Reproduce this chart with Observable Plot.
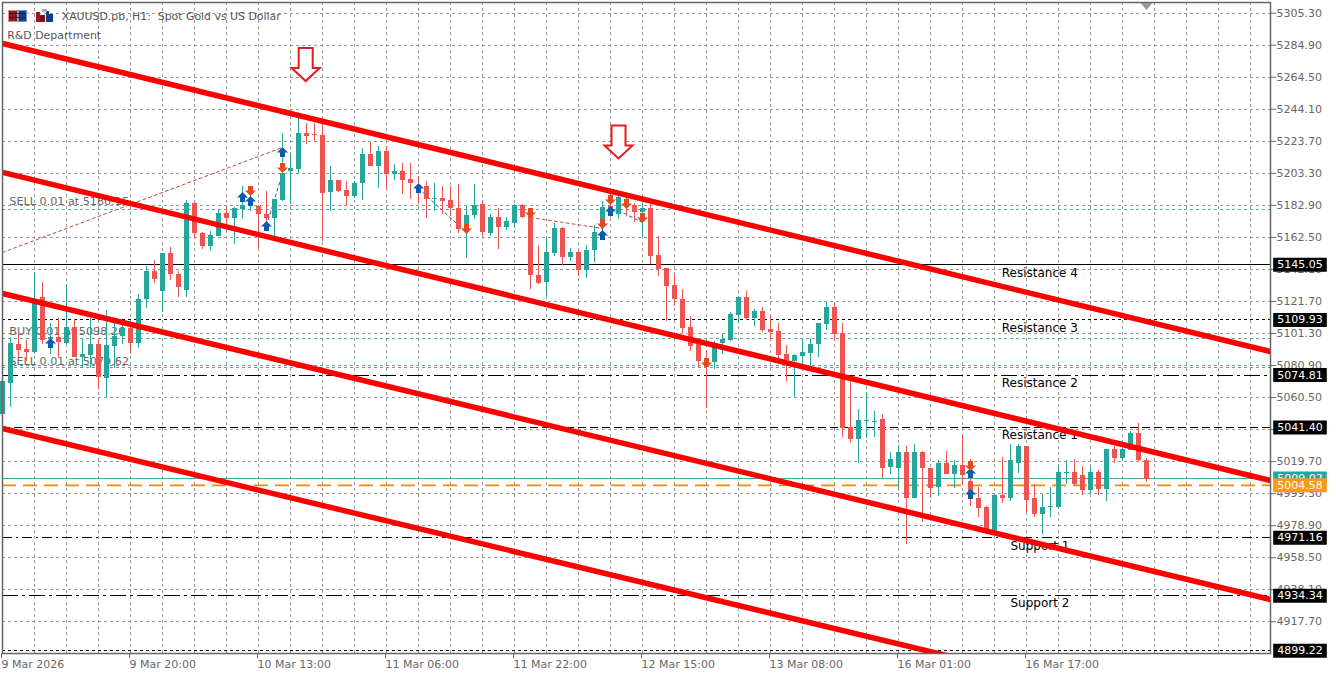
<!DOCTYPE html>
<html><head><meta charset="utf-8">
<script src="https://cdn.jsdelivr.net/npm/d3@7"></script>
<script src="https://cdn.jsdelivr.net/npm/@observablehq/plot@0.6"></script>
<style>
html,body{margin:0;padding:0;background:#fff;overflow:hidden}
#wrap{position:relative;width:1336px;height:676px}
#wrap svg{display:block}
.ic{position:absolute;box-sizing:border-box}
</style></head><body><div id="wrap"></div>
<script>
const opens=[5050.0,5069.7,5094.5,5091.4,5089.5,5124.5,5097.7,5099.0,5095.2,5105.4,
5086.3,5087.6,5094.5,5072.9,5093.3,5099.6,5104.7,5095.2,5123.2,5141.0,
5128.3,5152.5,5139.1,5128.9,5184.3,5165.2,5156.9,5163.3,5178.0,5174.8,
5180.5,5183.0,5182.4,5177.3,5174.8,5186.2,5204.7,5206.0,5228.9,5228.3,
5227.6,5191.3,5199.0,5192.6,5188.8,5197.1,5215.5,5207.9,5217.4,5202.8,
5204.7,5199.6,5194.5,5195.2,5186.9,5187.5,5186.2,5181.1,5171.0,5176.7,
5183.7,5165.2,5175.4,5169.0,5171.6,5183.0,5176.0,5138.5,5134.0,5152.5,
5168.4,5150.0,5153.1,5141.7,5154.4,5174.1,5182.4,5177.3,5185.6,5183.0,
5178.6,5181.1,5151.2,5143.0,5132.1,5123.2,5105.4,5094.5,5085.0,5083.1,
5095.2,5097.1,5113.0,5124.5,5111.1,5115.6,5104.1,5102.8,5088.2,5083.7,
5086.9,5088.8,5094.5,5107.3,5118.1,5101.6,5041.7,5034.1,5045.5,5044.9,
5046.8,5016.2,5015.6,5025.2,4996.5,5025.8,5015.6,5003.5,5018.8,5011.8,
5017.5,5007.3,4995.9,4990.8,4975.5,4998.4,4996.5,5018.8,5029.6,4995.9,
4986.3,4990.8,4990.8,5012.4,5013.0,5011.1,5001.6,5013.0,5002.2,5027.7,
5022.0,5027.1,5037.9,5020.7];
const closes=[5071.0,5095.2,5090.7,5089.5,5121.9,5097.1,5099.0,5095.8,5105.4,5086.3,
5088.2,5094.5,5073.5,5093.9,5099.6,5104.7,5095.2,5123.2,5141.0,5136.0,
5152.5,5139.1,5130.9,5184.3,5165.2,5156.9,5164.0,5178.0,5174.8,5181.1,
5183.0,5185.6,5177.3,5174.8,5186.9,5203.4,5206.6,5228.9,5227.0,5227.6,
5190.7,5199.0,5192.0,5188.8,5197.1,5215.5,5207.9,5217.4,5202.8,5204.7,
5199.0,5197.1,5190.7,5186.9,5187.5,5185.6,5181.1,5167.8,5176.7,5183.0,
5165.9,5175.4,5169.0,5172.9,5183.0,5175.4,5138.5,5133.4,5153.1,5168.4,
5150.0,5153.1,5141.7,5154.4,5165.9,5181.8,5178.0,5188.1,5183.7,5178.6,
5181.1,5150.6,5142.3,5131.5,5123.2,5104.7,5093.3,5083.7,5079.9,5095.2,
5097.7,5113.6,5124.5,5111.1,5115.6,5103.5,5102.2,5087.6,5084.4,5087.6,
5089.5,5094.5,5107.9,5118.1,5100.9,5041.1,5034.1,5046.2,5046.2,5045.5,
5015.6,5021.3,5025.2,4996.5,5025.8,5015.6,5002.9,5018.8,5011.8,5017.5,
5011.1,5000.9,4990.1,4974.8,4998.4,4996.5,5020.1,5029.6,4995.2,4986.3,
4990.8,4991.4,5013.0,5013.0,5005.4,5001.6,5013.0,5002.2,5027.7,5022.0,
5027.7,5037.9,5020.1,5008.6];
const highs=[5071.0,5099.0,5101.6,5097.1,5140.4,5134.0,5107.9,5111.1,5132.1,5110.5,
5097.7,5111.1,5098.4,5116.2,5111.1,5107.3,5107.3,5126.4,5144.2,5148.0,
5152.5,5156.3,5141.0,5186.2,5185.6,5165.9,5166.5,5179.9,5182.4,5181.8,
5195.2,5190.7,5183.0,5192.0,5186.9,5228.9,5215.5,5238.4,5235.3,5235.3,
5234.6,5207.9,5199.0,5198.3,5198.3,5219.3,5223.2,5220.6,5220.6,5209.2,
5209.8,5209.8,5201.5,5198.3,5197.1,5195.2,5195.2,5196.4,5183.0,5196.4,
5185.6,5177.3,5181.1,5175.4,5183.7,5183.7,5180.5,5157.6,5162.0,5171.6,
5169.0,5155.7,5153.8,5157.6,5170.3,5185.6,5190.7,5190.1,5190.7,5184.3,
5184.3,5183.7,5163.3,5143.0,5139.1,5129.6,5112.4,5097.7,5090.7,5096.5,
5100.9,5114.9,5124.5,5128.3,5116.8,5118.1,5112.4,5107.9,5093.9,5088.2,
5097.7,5098.4,5107.9,5121.9,5121.3,5107.9,5071.0,5053.2,5063.9,5051.9,
5050.0,5025.2,5030.2,5029.6,5030.9,5026.4,5015.6,5020.1,5026.4,5020.1,
5036.6,5021.3,5003.5,4991.4,4999.0,5022.6,5030.9,5030.9,5029.6,5005.4,
4999.0,5003.5,5016.9,5020.1,5021.3,5016.9,5016.2,5014.3,5027.7,5029.6,
5028.3,5039.2,5044.3,5022.0];
const lows=[5048.7,5054.4,5085.7,5083.7,5088.2,5094.5,5088.2,5086.3,5094.5,5085.7,
5079.3,5079.3,5065.9,5060.8,5079.3,5094.5,5088.2,5092.0,5117.5,5133.4,
5114.9,5135.3,5124.5,5124.5,5162.0,5155.0,5153.8,5163.3,5170.3,5158.2,
5174.1,5179.2,5155.7,5171.6,5163.3,5185.6,5183.7,5202.8,5221.9,5223.8,
5160.1,5179.2,5191.3,5182.4,5187.5,5186.2,5207.9,5193.9,5193.2,5199.0,
5190.1,5186.9,5183.7,5174.8,5179.2,5177.3,5176.0,5165.2,5149.3,5174.1,
5163.3,5163.3,5155.0,5167.1,5168.4,5174.8,5129.6,5132.8,5125.1,5150.6,
5144.9,5147.4,5137.9,5136.6,5146.8,5166.5,5175.4,5174.1,5176.0,5172.2,
5163.3,5145.5,5137.9,5109.2,5118.7,5101.6,5090.1,5079.3,5053.8,5078.6,
5088.2,5096.5,5107.9,5109.8,5106.0,5102.2,5096.5,5083.7,5071.0,5060.8,
5080.5,5079.3,5085.7,5103.5,5096.5,5035.3,5031.5,5018.2,5034.7,5035.3,
5009.2,5011.8,5002.2,4967.2,4995.9,4981.2,4996.5,4997.8,5011.8,5002.9,
5004.8,4991.4,4984.4,4974.8,4974.2,4993.3,4994.0,5012.4,4987.6,4983.8,
4973.6,4983.8,4990.1,5005.4,5004.1,4998.4,4999.0,4998.4,4994.0,5018.8,
5020.1,5027.1,5019.4,5006.7];

const priceTicks=[5305.3,5284.9,5264.5,5244.1,5223.7,5203.3,5182.9,5162.5,5142.1,5121.7,5101.3,5080.9,5060.5,5040.1,5019.7,4999.3,4978.9,4958.5,4938.1,4917.7];
const timeTickIdx=[0,16,32,48,64,80,96,112,128];
const timeTickLabels=["9 Mar 2026","9 Mar 20:00","10 Mar 13:00","11 Mar 06:00","11 Mar 22:00","12 Mar 15:00","13 Mar 08:00","16 Mar 01:00","16 Mar 17:00"];
const gridIdx=[4,8,12,16,20,24,28,32,36,40,44,48,52,56,60,64,68,72,76,80,84,88,92,96,100,104,108,112,116,120,124,128,132,136,140,144,148,152,156];

const levelPrices=[5145.05,5109.93,5074.81,5041.40,4971.16,4934.34,4899.22];
const levelDash=["none","3 3","16 4 3 4","8 4","10 4 2 4","16 4 3 4","3 3"];
const levelNames=["Resistance 4","Resistance 3","Resistance 2","Resistance 1","Support 1","Support 2"];
const levelNameIdx=[124.9,124.9,124.9,124.9,126,126];

const orderPrices=[5180.15,5098.26,5080.9,5079.62];
const orderTexts=["SELL 0.01 at 5180.15","BUY 0.01 at 5098.26","SELL 0.01 at 5079.62"];
const orderTextPrices=[5185.4,5102.6,5083.5];
const bidPrice=5009.02, askPrice=5004.58;

const channelStart=[5286.0,5203.9,5126.8,5040.8];
const channelEnd=[5089.8,5007.7,4931.9,4846.6];
const channelEndIdx=158.5;

const upIdx=[6,30,31,33,35,52,75,76,121,121];
const upPrice=[5094.9,5187.9,5185.4,5169.5,5216.6,5193.7,5163.7,5179.0,5012.2,4998.8];
const downIdx=[31,35,58,66,75,76,78,80,88,121];
const downPrice=[5192.4,5207.0,5168.2,5178.4,5171.4,5186.7,5184.1,5175.2,5082.8,5017.3];

const tradeSegs=[[0,5152.9,35,5219.8,"#b5533c"],[33,5170.1,35,5203.2,"#2a5f9e"],[52,5193.7,58,5165.6,"#2a5f9e"],[66,5175.2,75,5168.2,"#b5533c"],[77,5179.6,80,5172.0,"#2a5f9e"]];
const bigArrowIdx=[37.9,77], bigArrowPrice=[5272.6,5223.3];

const FONT="DejaVu Sans";
const green="#26a69a", red="#ef5350";
const candles=opens.map((o,i)=>({i,o,c:closes[i],h:highs[i],l:lows[i],col:closes[i]>=o?green:red}));

const poly=pts=>({draw(ctx){pts.forEach((p,j)=>j?ctx.lineTo(p[0],p[1]):ctx.moveTo(p[0],p[1]));ctx.closePath();}});
const upSym=poly([[0,-5.5],[5.5,0],[2.5,0],[2.5,4.5],[-2.5,4.5],[-2.5,0],[-5.5,0]]);
const downSym=poly([[0,5.5],[5.5,0],[2.5,0],[2.5,-4.5],[-2.5,-4.5],[-2.5,0],[-5.5,0]]);
const bigSym=poly([[-7,-16.5],[7,-16.5],[7,3.5],[14,3.5],[0,16.5],[-14,3.5],[-7,3.5]]);
const notchSym=poly([[-6,-3.5],[6,-3.5],[0,3.5]]);

const tag=(rows,fill)=>[
  Plot.ruleY(rows,{y:d=>d,x1:158.9,x2:165.6,stroke:fill,strokeWidth:14}),
  Plot.text(rows,{y:d=>d,x:159.35,text:d=>d.toFixed(2),fill:"#fff",textAnchor:"start",fontSize:11})
];
const crisp={shapeRendering:"crispEdges"};

const chart=Plot.plot({
  width:1336,height:676,marginTop:2,marginBottom:23,marginLeft:2,marginRight:66,
  style:{fontFamily:FONT,fontSize:"11px",background:"#fff",overflow:"visible"},
  x:{type:"linear",domain:[0,channelEndIdx],range:[2,1270],axis:null},
  y:{type:"linear",domain:[4897.5,5312.11],range:[653,2],axis:null},
  marks:[
    Plot.ruleX(gridIdx,{x:d=>d,stroke:"#999",strokeDasharray:"3 3",strokeWidth:1,...crisp}),
    Plot.ruleY(priceTicks,{y:d=>d,stroke:"#999",strokeDasharray:"3 3",strokeWidth:1,...crisp}),
    Plot.axisY({anchor:"right",ticks:priceTicks,tickFormat:d=>d.toFixed(2),tickSize:5,tickPadding:1,label:null,stroke:"#666",fill:"#666",fontSize:11,textAnchor:"start"}),
    Plot.axisX({anchor:"bottom",ticks:timeTickIdx,tickFormat:d=>timeTickLabels[timeTickIdx.indexOf(d)],tickSize:5,tickPadding:2,label:null,stroke:"#666",fill:"#666",fontSize:11,textAnchor:"start",dx:-1,marginBottom:23}),
    Plot.ruleY(orderPrices,{y:d=>d,stroke:"#5aa7a0",strokeDasharray:"3 3",strokeWidth:1,...crisp}),
    ...levelPrices.map((v,i)=>Plot.ruleY([v],{stroke:"#000",strokeWidth:1,strokeDasharray:levelDash[i],...crisp})),
    Plot.ruleY([bidPrice],{stroke:"#3fa89f",strokeWidth:1,...crisp}),
    Plot.ruleY([askPrice],{stroke:"#f08c00",strokeWidth:1.6,strokeDasharray:"14 7"}),
    Plot.text(orderTexts,{x:0.85,y:(d,i)=>orderTextPrices[i],text:d=>d,fill:"#666",textAnchor:"start",fontSize:11.2}),
    Plot.text(["XAUUSD.pb, H1:\u00a0 Spot Gold vs US Dollar"],{x:7.4,y:[5303.2],text:d=>d,fill:"#555",textAnchor:"start",fontSize:10.9}),
    Plot.text(["R&D Department"],{x:0.6,y:[5291.1],text:d=>d,fill:"#555",textAnchor:"start",fontSize:10.9}),
    ...tradeSegs.map(s=>Plot.line([[s[0],s[1]],[s[2],s[3]]],{x:d=>d[0],y:d=>d[1],stroke:s[4],strokeWidth:1,strokeDasharray:"3 3"})),
    Plot.ruleX(candles,{x:"i",y1:"l",y2:"h",stroke:"col",strokeWidth:1,...crisp}),
    Plot.ruleX(candles,{x:"i",y1:"o",y2:"c",stroke:"col",strokeWidth:5,...crisp}),
    Plot.dot(upIdx,{x:d=>d,y:(d,i)=>upPrice[i],symbol:()=>upSym,r:3,fill:"#0b5cad",stroke:"none"}),
    Plot.dot(downIdx,{x:d=>d,y:(d,i)=>downPrice[i],symbol:()=>downSym,r:3,fill:"#e24a20",stroke:"none"}),
    Plot.text(levelNames,{x:(d,i)=>levelNameIdx[i],y:(d,i)=>levelPrices[i],text:d=>d,dy:8,fill:"#000",textAnchor:"start",fontSize:12}),
    ...channelStart.map((s,i)=>Plot.line([[0,s],[channelEndIdx,channelEnd[i]]],{x:d=>d[0],y:d=>d[1],stroke:"#ff0000",strokeWidth:5.5,clip:"frame"})),
    Plot.dot(bigArrowIdx,{x:d=>d,y:(d,i)=>bigArrowPrice[i],symbol:()=>bigSym,r:3,fill:"#fff",stroke:"#e21b1b",strokeWidth:2}),
    Plot.frame({stroke:"#666",strokeWidth:1.5}),
    Plot.dot([143],{x:d=>d,y:[5309.6],symbol:()=>notchSym,r:3,fill:"#999",stroke:"none"}),
    ...tag(levelPrices,"#000"),
    ...tag([bidPrice],green),
    ...tag([askPrice],"#ff9812")
  ]
});
const wrap=document.getElementById("wrap");
wrap.appendChild(chart);
const ic=(l,t,w,h,bg,bd)=>{const e=document.createElement("div");e.className="ic";e.style.cssText=`left:${l}px;top:${t}px;width:${w}px;height:${h}px;background:${bg};${bd?"border:1px solid "+bd:""}`;wrap.appendChild(e);};
ic(8,10,10,12,"#8a1f1f","#e88");ic(18,10,9,12,"#123f8a","#69c");
for(const y of [13,17]){ic(9,y,17,1,"#222");}
ic(36,12,4,10,"#9a1a1a");ic(40,15,5,7,"#7a1010");ic(46,11,3,11,"#123f8a");ic(49,14,4,8,"#0d3b87");ic(42,9,5,3,"#aaa");
</script></body></html>
